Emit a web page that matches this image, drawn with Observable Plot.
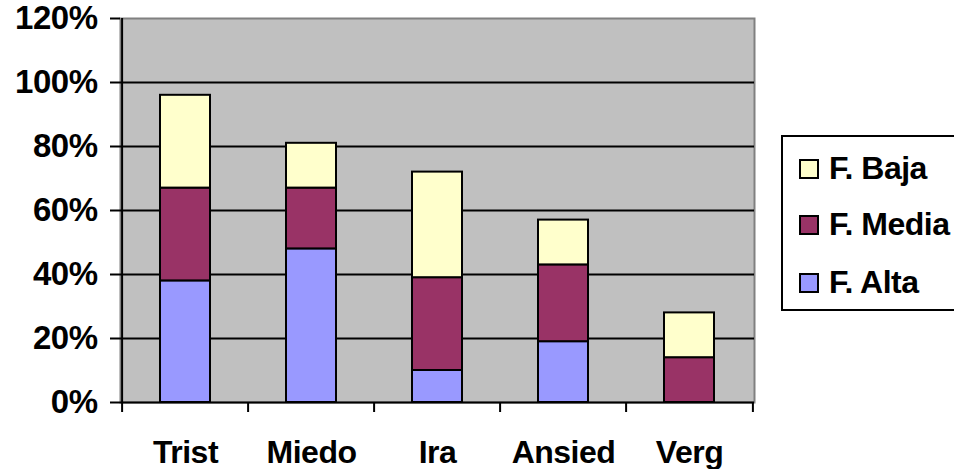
<!DOCTYPE html>
<html>
<head>
<meta charset="utf-8">
<script src="https://cdn.jsdelivr.net/npm/d3@7"></script>
<script src="https://cdn.jsdelivr.net/npm/@observablehq/plot@0.6"></script>
<style>
  html, body { margin: 0; padding: 0; background: #fff; overflow: hidden; width: 954px; height: 469px; }
  #wrap { position: relative; width: 954px; height: 469px; }
  #legend { position: absolute; left: 781px; top: 135px; width: 210px; height: 172px; border: 2px solid #000; background: #fff; box-sizing: content-box; }
  .item { position: absolute; left: 16px; height: 20px; font: bold 32px "Liberation Sans", Arial, sans-serif; color: #000; white-space: nowrap; }
  .sw { position: absolute; left: 0; top: 0; width: 16px; height: 16px; border: 2px solid #000; }
  .lab { position: absolute; left: 30px; top: -9px; line-height: 37px; letter-spacing: -0.5px; }
</style>
</head>
<body>
<div id="wrap"><div id="chart"></div><div id="legend"></div></div>
<script>
const categories = ["Trist", "Miedo", "Ira", "Ansied", "Verg"];
const seriesNames = ["F. Alta", "F. Media", "F. Baja"];
const alta  = [38, 48, 10, 19, 0];
const media = [29, 19, 29, 24, 14];
const baja  = [29, 14, 33, 14, 14];
const seriesColors = ["#9999ff", "#993366", "#ffffcc"];
const yTicks = [0, 20, 40, 60, 80, 100, 120];
const gridTicks = [20, 40, 60, 80, 100];

const seriesValues = [alta, media, baja];
const data = [];
seriesNames.forEach((s, si) => {
  categories.forEach((c, ci) => {
    const v = seriesValues[si][ci];
    if (v > 0) data.push({cat: c, series: s, value: v});
  });
});

const W = 954, H = 469, mL = 120, mR = 200, mT = 18, mB = 67;
const step = (W - mL - mR) / categories.length;
const font = "'Liberation Sans', Arial, sans-serif";

const chart = Plot.plot({
  width: W, height: H,
  marginLeft: mL, marginRight: mR, marginTop: mT, marginBottom: mB,
  style: {fontFamily: font, color: "#000", background: "#fff"},
  x: {domain: categories, paddingInner: 0.605, paddingOuter: 0.3025, label: null},
  y: {domain: [0, 120], label: null},
  color: {domain: seriesNames, range: seriesColors},
  marks: [
    Plot.frame({fill: "#c0c0c0", stroke: "#808080", strokeWidth: 2}),
    Plot.ruleY(gridTicks, {stroke: "#000", strokeWidth: 2}),
    Plot.barY(data, {x: "cat", y: "value", fill: "series", stroke: "#000", strokeWidth: 2}),
    Plot.ruleY([0], {stroke: "#000", strokeWidth: 2}),
    Plot.ruleX([categories[0]], {dx: -step / 2, stroke: "#000", strokeWidth: 2}),
    Plot.axisY({ticks: yTicks, tickFormat: d => d + "%", tickSize: 10, tickPadding: 13,
      fontSize: 33, fontWeight: "bold", stroke: "#000", strokeWidth: 2, fill: "#000"}),
    Plot.axisX({tickSize: 10, tickFormat: () => "", dx: -step / 2, stroke: "#000", strokeWidth: 2}),
    Plot.axisX({ticks: [categories[categories.length - 1]], tickSize: 10, tickFormat: () => "", dx: step / 2, stroke: "#000", strokeWidth: 2}),
    Plot.axisX({tickSize: 0, tickPadding: 38, fontSize: 32, fontWeight: "bold", fill: "#000"})
  ]
});
chart.querySelectorAll("text").forEach(t => t.setAttribute("letter-spacing", "-0.5"));
document.getElementById("chart").appendChild(chart);

const legend = document.getElementById("legend");
const tops = [22, 78, 136];
seriesNames.slice().reverse().forEach((s, i) => {
  const idx = seriesNames.indexOf(s);
  const item = document.createElement("div");
  item.className = "item";
  item.style.top = tops[i] + "px";
  const sw = document.createElement("div");
  sw.className = "sw";
  sw.style.background = seriesColors[idx];
  const lab = document.createElement("div");
  lab.className = "lab";
  lab.textContent = s;
  item.appendChild(sw);
  item.appendChild(lab);
  legend.appendChild(item);
});
</script>
</body>
</html>
